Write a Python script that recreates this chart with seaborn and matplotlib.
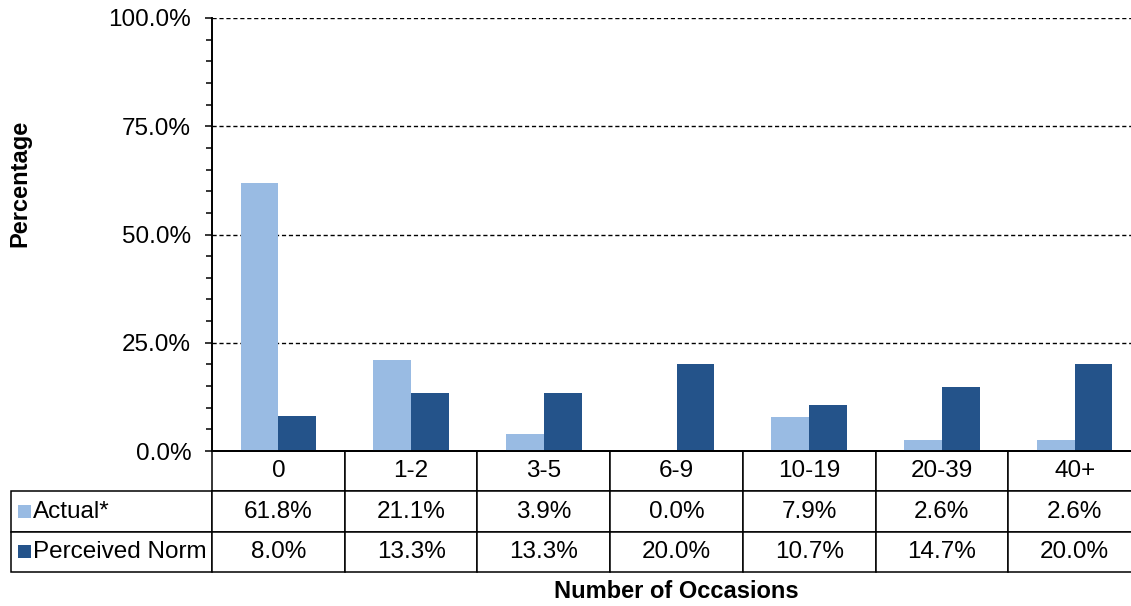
import pandas as pd
import matplotlib.pyplot as plt
import seaborn as sns
from matplotlib.ticker import PercentFormatter, MultipleLocator
from matplotlib.patches import Rectangle

# data
occasions = ["0", "1-2", "3-5", "6-9", "10-19", "20-39", "40+"]
actual = [61.8, 21.1, 3.9, 0.0, 7.9, 2.6, 2.6]
perceived = [8.0, 13.3, 13.3, 20.0, 10.7, 14.7, 20.0]
series_names = ["Actual*", "Perceived Norm"]
colors = ["#99BBE3", "#24538A"]

df = pd.DataFrame({
    "occasions": occasions * 2,
    "pct": actual + perceived,
    "series": [series_names[0]] * len(occasions) + [series_names[1]] * len(occasions),
})

sns.set_style("white")
plt.rcParams["font.family"] = ["Liberation Sans", "DejaVu Sans"]

fig = plt.figure(figsize=(11.31, 6.06), dpi=100)
W, H = 1131, 606
ax_l, ax_r, ax_t, ax_b = 212, 1141, 18, 451
ax = fig.add_axes([ax_l / W, 1 - ax_b / H, (ax_r - ax_l) / W, (ax_b - ax_t) / H])

sns.barplot(data=df, x="occasions", y="pct", hue="series", order=occasions,
            hue_order=series_names, palette=colors, width=0.57, saturation=1,
            linewidth=0, legend=False, ax=ax)

ax.set_xlim(-0.5, len(occasions) - 0.5)
ax.set_ylim(0, 100)
ax.yaxis.set_major_locator(MultipleLocator(25))
ax.yaxis.set_minor_locator(MultipleLocator(5))
ax.yaxis.set_major_formatter(PercentFormatter(xmax=100, decimals=1))
ax.tick_params(axis="y", which="major", direction="out", length=5, width=1.1,
               color="black", labelsize=17.5, pad=10, left=True, labelcolor="black")
ax.tick_params(axis="y", which="minor", direction="out", length=4.3, width=1.1,
               color="black", left=True)
ax.set_xticks([])
ax.set_xlabel("")
ax.grid(axis="y", which="major", color="black", linestyle=(0, (3, 2)), linewidth=1)
ax.set_axisbelow(True)
for side in ["top", "right"]:
    ax.spines[side].set_visible(False)
for side in ["left", "bottom"]:
    ax.spines[side].set_color("black")
    ax.spines[side].set_linewidth(1.4)

# data table under the axis: first column holds the series names
ax_w = ax_r - ax_l
ax_h = ax_b - ax_t
row_lab_px = 212 - 11
table_h_px = 572 - 451
cell_text = [[""] + occasions,
             [series_names[0]] + [f"{v:.1f}%" for v in actual],
             [series_names[1]] + [f"{v:.1f}%" for v in perceived]]
col_w = [row_lab_px / ax_w] + [1 / len(occasions)] * len(occasions)
tbl = ax.table(cellText=cell_text, colWidths=col_w, cellLoc="center",
               bbox=[-row_lab_px / ax_w, -table_h_px / ax_h,
                     1 + row_lab_px / ax_w, table_h_px / ax_h])
tbl.auto_set_font_size(False)
for (r, c), cell in tbl.get_celld().items():
    cell.set_edgecolor("black")
    cell.set_linewidth(1.1)
    cell.get_text().set_fontsize(17.5)
    cell.get_text().set_color("black")
    if c == 0:
        cell.get_text().set_horizontalalignment("left")
        cell.PAD = 0.11
        if r == 0:
            cell.visible_edges = ""

# legend keys inside the row label cells
row_h = table_h_px / 3
for i, col in enumerate(colors):
    cy = 451 + row_h * (i + 1.5)
    ax.add_patch(Rectangle(((18 - ax_l) / ax_w, (ax_b - cy - 6.5) / ax_h),
                           13 / ax_w, 13 / ax_h, transform=ax.transAxes,
                           facecolor=col, edgecolor="none", clip_on=False))

ax.set_ylabel("Percentage", fontsize=17, fontweight="bold", color="black")
ax.yaxis.set_label_coords((31 - ax_l) / ax_w, (ax_b - 183) / ax_h)
fig.text(0.5 * (ax_l + ax_r) / W, 1 - 591 / H, "Number of Occasions",
         fontsize=17, fontweight="bold", ha="center", va="center", color="black")

plt.savefig("out.png", dpi=100)
plt.close()
